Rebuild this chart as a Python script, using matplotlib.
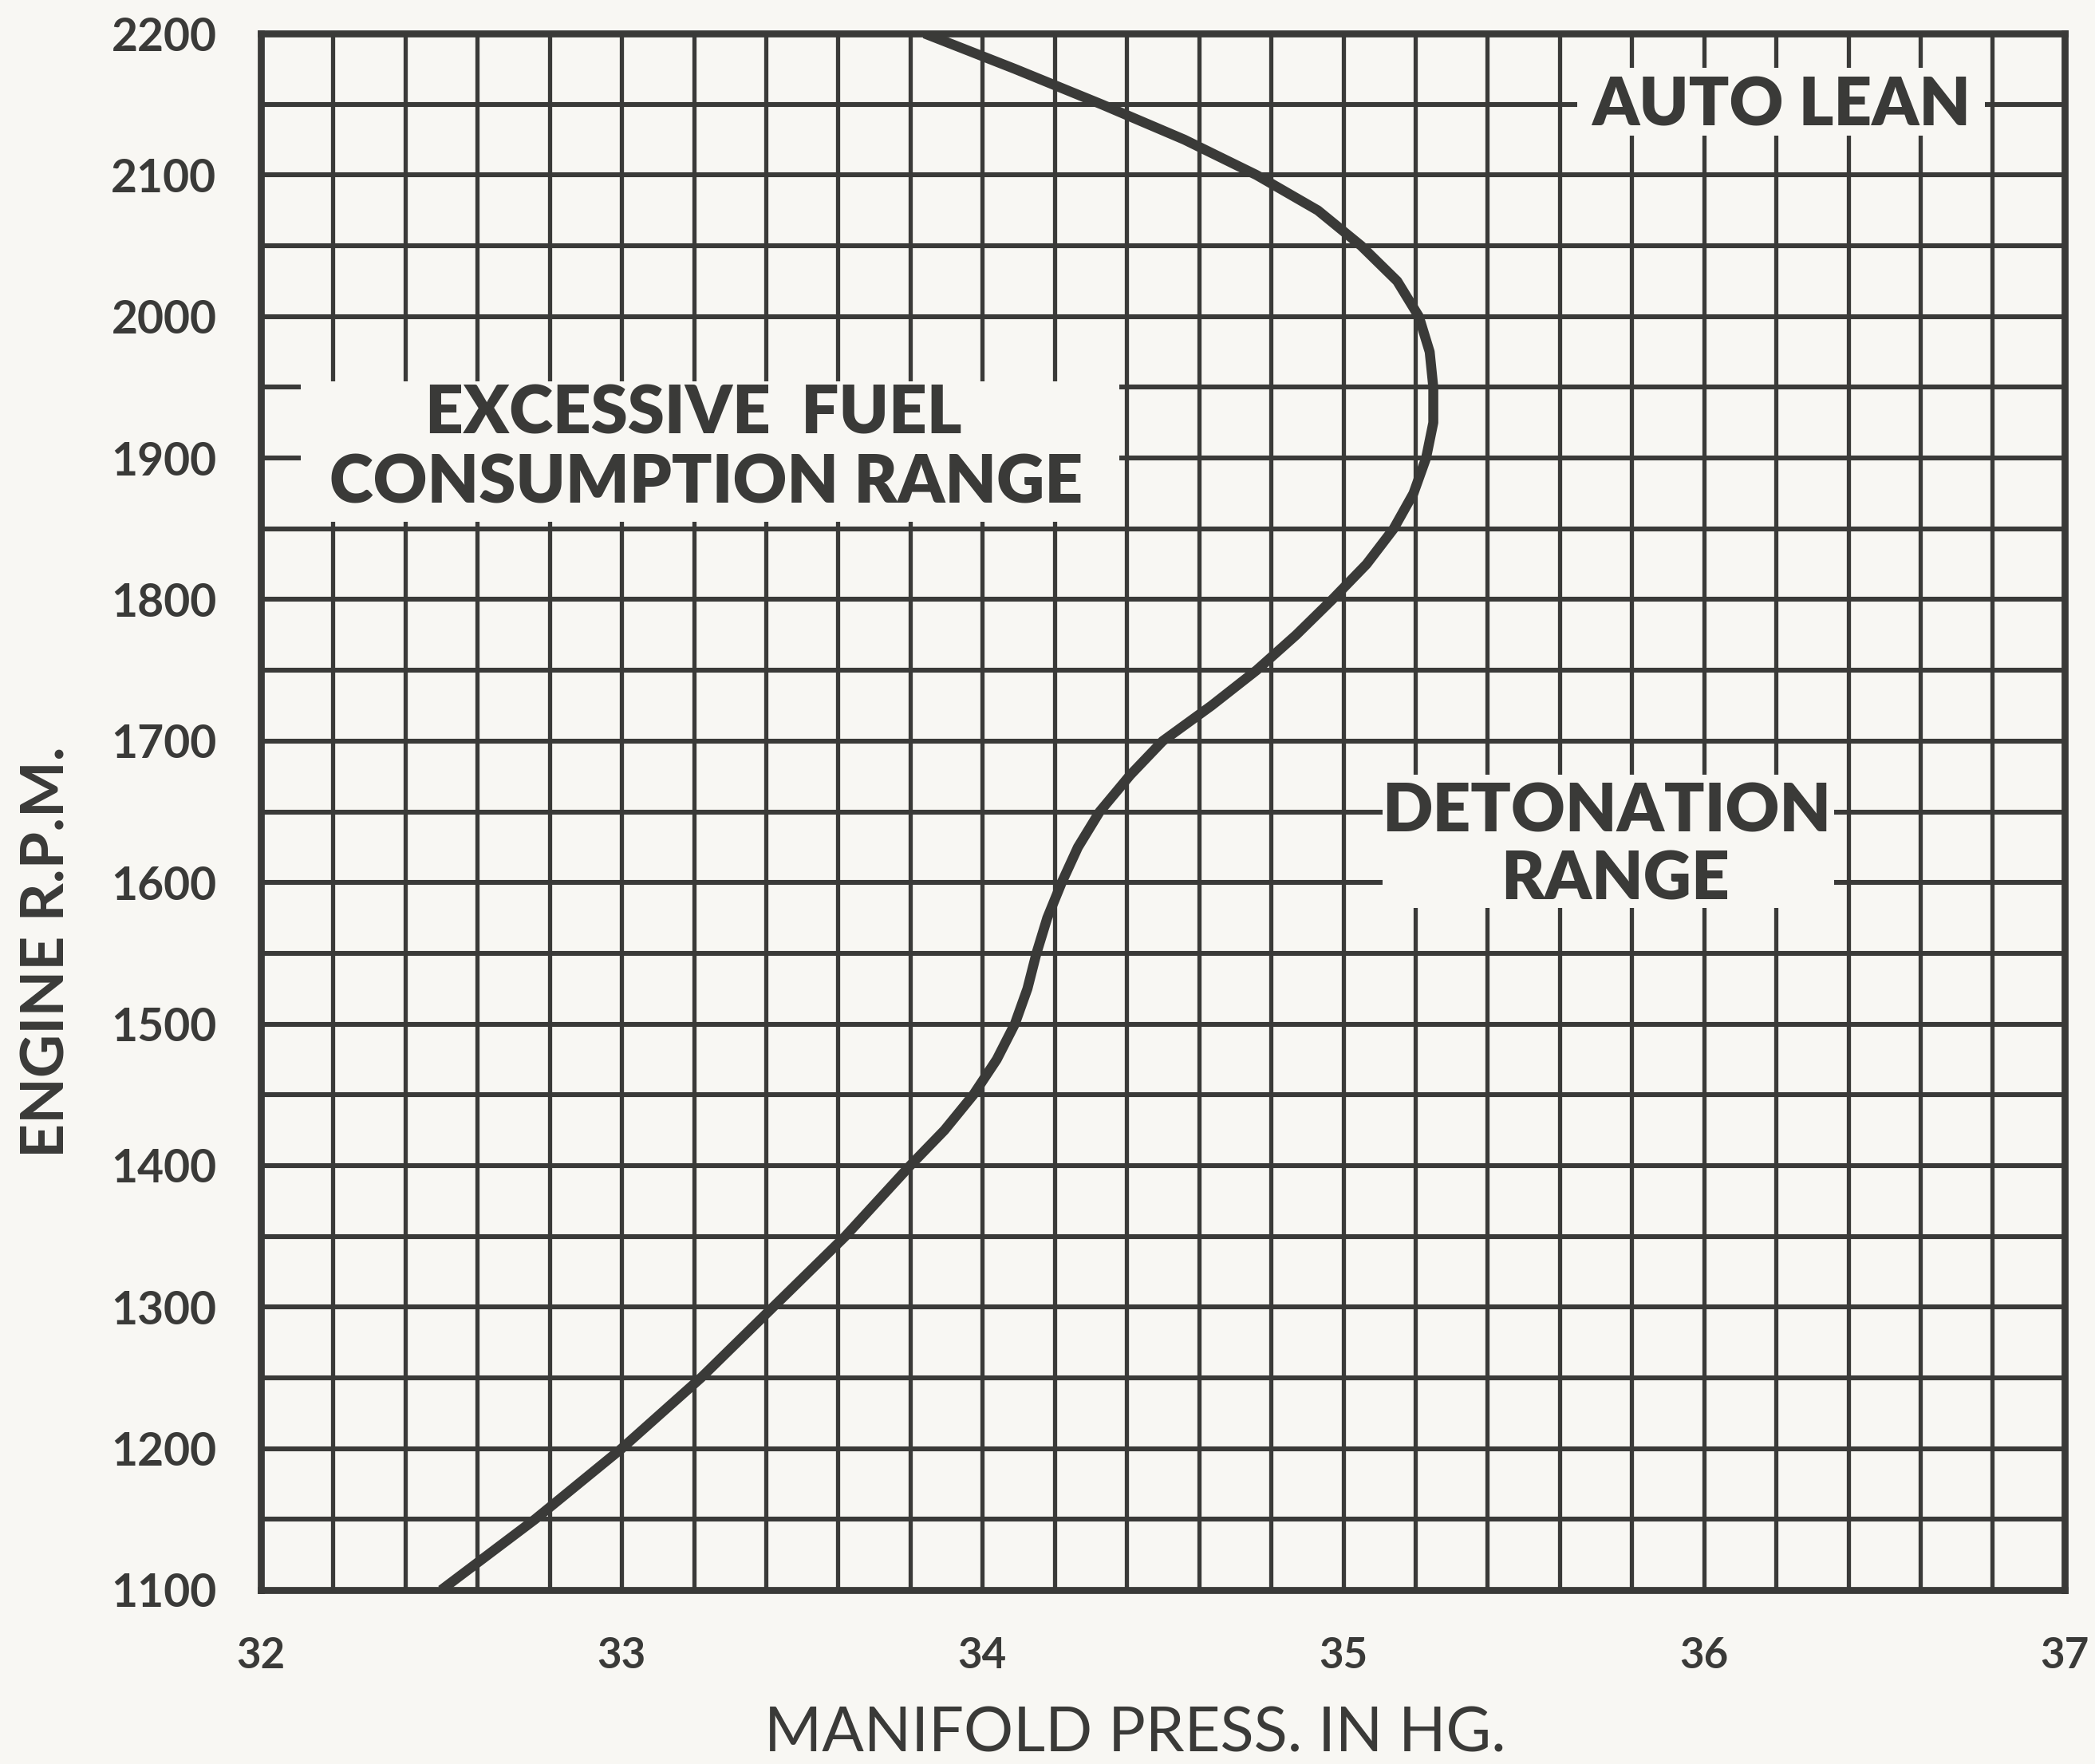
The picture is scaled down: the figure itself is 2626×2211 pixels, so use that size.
import matplotlib
matplotlib.use("Agg")
import matplotlib.pyplot as plt
from matplotlib.patches import Rectangle

# manifold pressure (in. Hg) vs engine rpm along the auto-lean boundary
press = [32.50, 32.76, 33.00, 33.22, 33.42, 33.62, 33.80, 33.895, 33.975, 34.04,
         34.09, 34.125, 34.15, 34.18, 34.22, 34.265, 34.325, 34.41, 34.50,
         34.635, 34.76, 34.87, 34.97, 35.065, 35.14, 35.195, 35.23, 35.25, 35.25,
         35.24, 35.21, 35.15, 35.05, 34.93, 34.76, 34.56, 34.33, 34.09, 33.84]
rpm = [1100, 1150, 1200, 1250, 1300, 1350, 1400, 1425, 1450, 1475,
       1500, 1525, 1550, 1575, 1600, 1625, 1650, 1676, 1700,
       1725, 1750, 1775, 1800, 1825, 1850, 1875, 1900, 1925, 1950,
       1975, 2000, 2025, 2050, 2075, 2100, 2125, 2150, 2175, 2200]

x_ticks = [32, 33, 34, 35, 36, 37]
y_ticks = [1100, 1200, 1300, 1400, 1500, 1600, 1700, 1800, 1900, 2000, 2100, 2200]

BG = "#f8f7f3"
INK = "#3a3a38"

plt.rcParams["font.family"] = ["Lato", "DejaVu Sans"]

fig = plt.figure(figsize=(26.26, 22.11), dpi=100, facecolor=BG)
ax = fig.add_axes([0.1245, 0.0986, 0.861, 0.8824])
ax.set_facecolor(BG)

ax.set_xlim(32, 37)
ax.set_ylim(1100, 2200)

# grid: every 0.2 in. Hg and every 50 rpm
k = 0
while k <= 25:
    ax.axvline(32 + 0.2 * k, color=INK, lw=3.8, zorder=1)
    k += 1
k = 0
while k <= 22:
    ax.axhline(1100 + 50 * k, color=INK, lw=4.4, zorder=1)
    k += 1

for s in ax.spines.values():
    s.set_color(INK)
    s.set_linewidth(6.3)
    s.set_zorder(2.5)

ax.set_xticks(x_ticks)
ax.set_yticks(y_ticks)
ax.set_xticklabels([str(v) for v in x_ticks])
ax.set_yticklabels([str(v) for v in y_ticks])
ax.tick_params(axis="both", length=0, colors=INK)
ax.tick_params(axis="x", pad=42, labelsize=38)
ax.tick_params(axis="y", pad=40, labelsize=41)
for lab in ax.get_xticklabels() + ax.get_yticklabels():
    lab.set_fontweight("bold")

# boundary curve
ax.plot(press, rpm, color=INK, lw=9, solid_joinstyle="round",
        solid_capstyle="butt", zorder=3)

# blank boxes behind the region labels
boxes = [(35.65, 2128, 1.13, 48), (32.11, 1855, 2.27, 99), (35.11, 1582, 1.25, 94)]
for x0, y0, w, h in boxes:
    ax.add_patch(Rectangle((x0, y0), w, h, facecolor=BG, edgecolor="none", zorder=2))

lab_kw = dict(color=INK, fontsize=60, fontweight="heavy", ha="center", va="baseline", zorder=4)
ax.text(36.215, 2135, "AUTO LEAN", **lab_kw)
ax.text(33.20, 1917, "EXCESSIVE  FUEL", **lab_kw)
ax.text(33.235, 1868, "CONSUMPTION RANGE", **lab_kw)
ax.text(35.73, 1636, "DETONATION", **lab_kw)
ax.text(35.755, 1588, "RANGE", **lab_kw)

fig.text(0.542, 0.0167, "MANIFOLD PRESS. IN HG.", color=INK, fontsize=56,
         ha="center", va="center")
fig.text(0.0225, 0.4604, "ENGINE R.P.M.", color=INK, fontsize=54, fontweight="bold",
         rotation=90, ha="center", va="center")

fig.savefig("out.png", dpi=100, facecolor=BG)
